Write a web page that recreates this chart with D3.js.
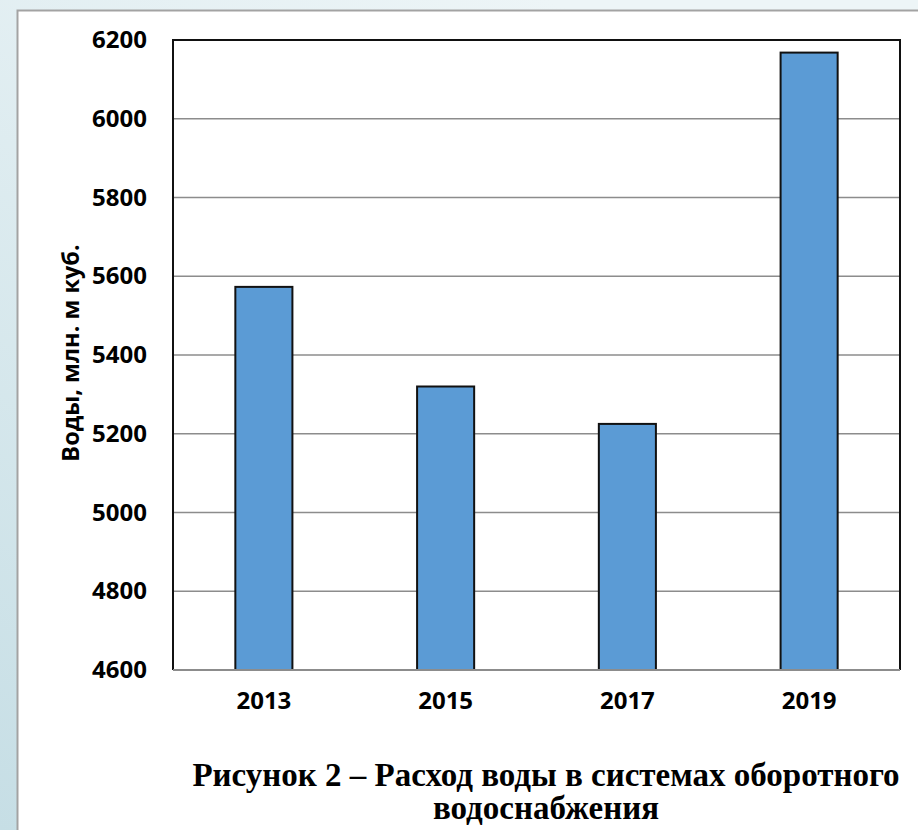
<!DOCTYPE html>
<html>
<head>
<meta charset="utf-8">
<script src="https://cdn.jsdelivr.net/npm/d3@7"></script>
<style>
	html, body { margin: 0; padding: 0; overflow: hidden; }
</style>
</head>
<body>
<div id="chart"></div>
<script>
const years = ['2013', '2015', '2017', '2019']
const water = [5573, 5320, 5225, 6168]
const yTicks = [4600, 4800, 5000, 5200, 5400, 5600, 5800, 6000, 6200]
const yTitle = 'Воды, млн. м куб.'
const captionLines = ['Рисунок 2 – Расход воды в системах оборотного', 'водоснабжения']

const fullWidth = 918
const fullHeight = 830
const margin = {top: 40, right: 18, bottom: 160, left: 173}
const width = fullWidth - margin.left - margin.right
const height = fullHeight - margin.top - margin.bottom

const data = years.map((year, i) => ({year, value: water[i]}))

const svg = d3
	.select('#chart')
	.append('svg')
	.attr('width', fullWidth)
	.attr('height', fullHeight)
	.style('display', 'block')

// page background + white panel
const defs = svg.append('defs')
const grad = defs
	.append('linearGradient')
	.attr('id', 'bg')
	.attr('x1', '0.6')
	.attr('y1', '0')
	.attr('x2', '0')
	.attr('y2', '1')
grad.append('stop').attr('offset', '0%').attr('stop-color', '#edf5f7')
grad.append('stop').attr('offset', '100%').attr('stop-color', '#c6dee5')

svg.append('rect').attr('width', fullWidth).attr('height', fullHeight).attr('fill', 'url(#bg)')
svg
	.append('rect')
	.attr('x', 17.5)
	.attr('y', 10.5)
	.attr('width', fullWidth)
	.attr('height', fullHeight)
	.attr('fill', '#fff')
	.attr('stroke', '#a3a3a3')
	.attr('stroke-width', 2)

const g = svg.append('g').attr('transform', `translate(${margin.left}, ${margin.top})`)

const x = d3
	.scaleBand()
	.domain(years)
	.range([0, width])
	.paddingInner(0.686)
	.paddingOuter(0.343)

const y = d3.scaleLinear().domain([4600, 6200]).range([height, 0])

// gridlines
g.selectAll('.grid')
	.data(yTicks)
	.enter()
	.append('line')
	.attr('x1', 0)
	.attr('x2', width)
	.attr('y1', (d) => y(d))
	.attr('y2', (d) => y(d))
	.attr('stroke', '#8c8c8c')
	.attr('stroke-width', 1.6)

// frame (top, left, right)
g.append('path')
	.attr('d', `M0,${height}V0H${width}V${height}`)
	.attr('fill', 'none')
	.attr('stroke', '#111')
	.attr('stroke-width', 2)

// bars
g.selectAll('.bar')
	.data(data)
	.enter()
	.append('rect')
	.attr('x', (d) => x(d.year))
	.attr('width', x.bandwidth())
	.attr('y', (d) => y(d.value))
	.attr('height', (d) => y(4600) - y(d.value))
	.attr('fill', '#5b9bd5')
	.attr('stroke', '#111')
	.attr('stroke-width', 2)

// baseline
g.append('line')
	.attr('x1', 0)
	.attr('x2', width)
	.attr('y1', height)
	.attr('y2', height)
	.attr('stroke', '#8c8c8c')
	.attr('stroke-width', 2)

const tickFont = (sel) => {
	sel.select('.domain').remove()
	sel.selectAll('text')
		.attr('font-family', '"Open Sans", sans-serif')
		.attr('font-weight', 'bold')
		.attr('font-size', 24)
		.attr('fill', '#000')
}

g.append('g')
	.call(d3.axisLeft(y).tickValues(yTicks).tickSize(0).tickPadding(26).tickFormat(d3.format('d')))
	.call(tickFont)

g.append('g')
	.attr('transform', `translate(0, ${height})`)
	.call(d3.axisBottom(x).tickSize(0).tickPadding(22))
	.call(tickFont)

svg.append('text')
	.attr('transform', `translate(70, ${margin.top + height / 2 - 2}) rotate(-90)`)
	.attr('text-anchor', 'middle')
	.attr('dominant-baseline', 'central')
	.attr('font-family', '"Open Sans", sans-serif')
	.attr('font-weight', 'bold')
	.attr('font-size', 23.5)
	.text(yTitle)

svg.selectAll('.caption')
	.data(captionLines)
	.enter()
	.append('text')
	.attr('x', 546)
	.attr('y', (d, i) => 786 + i * 33)
	.attr('text-anchor', 'middle')
	.attr('font-family', '"Liberation Serif", "Times New Roman", serif')
	.attr('font-weight', 'bold')
	.attr('font-size', 33)
	.text((d) => d)
</script>
</body>
</html>
